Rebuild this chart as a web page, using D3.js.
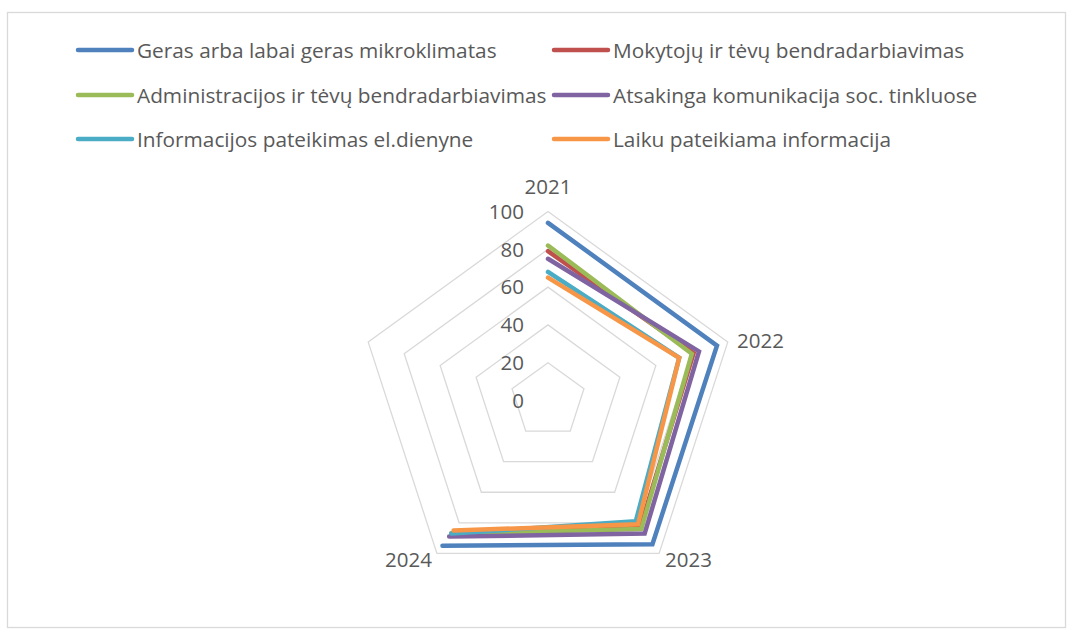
<!DOCTYPE html>
<html>
<head>
<meta charset="utf-8">
<script src="https://cdn.jsdelivr.net/npm/d3@7"></script>
<style>
  body { margin: 0; background: #fff; }
  text { font-family: "Open Sans", Lato, sans-serif; fill: #595959; }
</style>
</head>
<body>
<svg id="chart" width="1077" height="637"></svg>
<script>
// categories (5th spoke is an empty category in the source sheet)
const categories = ["2021", "2022", "2023", "2024", ""];
const seriesNames = [
    "Geras arba labai geras mikroklimatas",
    "Mokytojų ir tėvų bendradarbiavimas",
    "Administracijos ir tėvų bendradarbiavimas",
    "Atsakinga komunikacija soc. tinkluose",
    "Informacijos pateikimas el.dienyne",
    "Laiku pateikiama informacija"
];
const geras = [94, 94, 94, 95, null];
const mokytoju = [79, 81, 83, 87, null];
const administracijos = [82, 80, 84, 87, null];
const atsakinga = [75, 84, 87, 89, null];
const informacijos = [68, 73, 79, 87, null];
const laiku = [65, 73, 81, 85, null];
const seriesValues = [geras, mokytoju, administracijos, atsakinga, informacijos, laiku];
const colors = ["#4f81bd", "#c0504d", "#9bbb59", "#8064a2", "#4bacc6", "#f79646"];
const radialTicks = [0, 20, 40, 60, 80, 100];

const svg = d3.select("#chart");
const cx = 548, cy = 400.5, R = 189;

// chart frame
svg.append("rect")
    .attr("x", 7.5).attr("y", 12.5)
    .attr("width", 1058).attr("height", 615)
    .attr("fill", "#fff")
    .attr("stroke", "#d9d9d9")
    .attr("stroke-width", 1.3);

const r = d3.scaleLinear().domain([0, 100]).range([0, R]);
const angle = d3.scaleLinear().domain([0, categories.length]).range([0, 2 * Math.PI]);

function pt(i, v) {
    const a = angle(i);
    return [cx + r(v) * Math.sin(a), cy - r(v) * Math.cos(a)];
}

// grid rings (pentagons)
const grid = svg.append("g");
radialTicks.filter(t => t > 0).forEach(t => {
    grid.append("path")
        .attr("d", d3.line()(categories.map((c, i) => pt(i, t))) + "Z")
        .attr("fill", "none")
        .attr("stroke", "#d9d9d9")
        .attr("stroke-width", 1.3);
});

// radial tick labels
svg.append("g").selectAll("text")
    .data(radialTicks)
    .join("text")
    .attr("x", cx - 24)
    .attr("y", d => cy - r(d))
    .attr("dy", "0.36em")
    .attr("text-anchor", "end")
    .style("font-size", "20.5px")
    .text(d => d);

// category labels
const catPos = [
    { x: cx, y: 194, anchor: "middle" },
    { x: 737, y: 348, anchor: "start" },
    { x: 665, y: 567, anchor: "start" },
    { x: 432, y: 567, anchor: "end" },
    { x: 0, y: 0, anchor: "start" }
];
svg.append("g").selectAll("text")
    .data(categories)
    .join("text")
    .attr("x", (d, i) => catPos[i].x)
    .attr("y", (d, i) => catPos[i].y)
    .attr("text-anchor", (d, i) => catPos[i].anchor)
    .style("font-size", "20.5px")
    .text(d => d);

// series lines (open path: empty 5th category breaks the line)
const line = d3.line()
    .defined(d => d.v != null)
    .x(d => pt(d.i, d.v)[0])
    .y(d => pt(d.i, d.v)[1]);

svg.append("g").selectAll("path")
    .data(seriesValues)
    .join("path")
    .attr("d", vals => line(vals.map((v, i) => ({ i, v }))))
    .attr("fill", "none")
    .attr("stroke", (d, i) => colors[i])
    .attr("stroke-width", 4.5)
    .attr("stroke-linejoin", "miter")
    .attr("stroke-linecap", "round");

// legend, two columns x three rows
const legendCols = [78, 554];
const legendRows = [50, 95, 139];
const legend = svg.append("g").selectAll("g")
    .data(seriesNames)
    .join("g")
    .attr("transform", (d, i) => `translate(${legendCols[i % 2]},${legendRows[Math.floor(i / 2)]})`);

legend.append("line")
    .attr("x1", 0).attr("x2", 54)
    .attr("stroke", (d, i) => colors[i])
    .attr("stroke-width", 4.5)
    .attr("stroke-linecap", "round");

legend.append("text")
    .attr("x", 59)
    .attr("dy", "0.36em")
    .style("font-size", "20.8px")
    .text(d => d);
</script>
</body>
</html>
